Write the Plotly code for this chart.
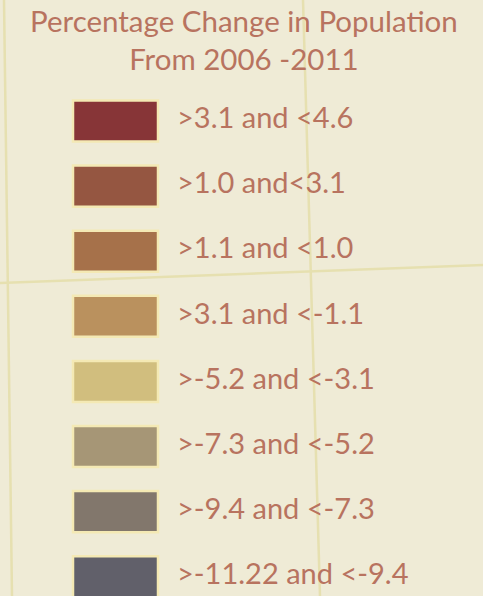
import plotly.graph_objects as go

title_lines = ["Percentage Change in Population", "From 2006 -2011"]
labels = [">3.1 and <4.6", ">1.0 and<3.1", ">1.1 and <1.0", ">3.1 and <-1.1",
          ">-5.2 and <-3.1", ">-7.3 and <-5.2", ">-9.4 and <-7.3", ">-11.22 and <-9.4"]
colors = ["#873537", "#955641", "#A6714A", "#BA915E",
          "#D1BE7E", "#A69676", "#82776C", "#61606A"]
rows = list(range(len(labels)))

text_color = "#B8735F"
bg = "#EFEBD6"
grid = "#E6E0B0"

fig = go.Figure()
fig.add_trace(go.Bar(
    orientation="h", y=rows, x=[85] * len(rows), base=[73] * len(rows),
    width=0.63, marker=dict(color=colors, line=dict(color="#F4E9B4", width=2.5)),
    hoverinfo="skip", showlegend=False))
fig.add_trace(go.Scatter(
    x=[177] * len(rows), y=rows, mode="text", text=labels,
    textposition="middle right",
    textfont=dict(family="Lato", size=29, color=text_color),
    hoverinfo="skip", showlegend=False))

shapes = [
    dict(type="line", xref="paper", yref="paper", x0=4 / 483, y0=1, x1=12 / 483, y1=0,
         line=dict(color=grid, width=2.5), layer="below"),
    dict(type="line", xref="paper", yref="paper", x0=303 / 483, y0=1, x1=320 / 483, y1=0,
         line=dict(color=grid, width=2.5), layer="below"),
    dict(type="line", xref="paper", yref="paper", x0=0, y0=1 - 283 / 596, x1=1, y1=1 - 265 / 596,
         line=dict(color=grid, width=2.5), layer="below"),
]

fig.update_layout(
    width=483, height=596, margin=dict(l=0, r=0, t=0, b=0),
    paper_bgcolor=bg, plot_bgcolor=bg, shapes=shapes,
    xaxis=dict(range=[0, 483], visible=False, fixedrange=True),
    yaxis=dict(range=[7.296, -1.859], visible=False, fixedrange=True),
    annotations=[dict(
        text="<br>".join(title_lines), xref="paper", yref="paper",
        x=0.505, y=1 - 1 / 596, xanchor="center", yanchor="top", showarrow=False,
        font=dict(family="Lato", size=29.5, color=text_color), align="center")],
)
fig.write_html("out.html", config={"displayModeBar": False},
               post_script="document.body.style.margin='0';document.body.style.overflow='hidden';")
